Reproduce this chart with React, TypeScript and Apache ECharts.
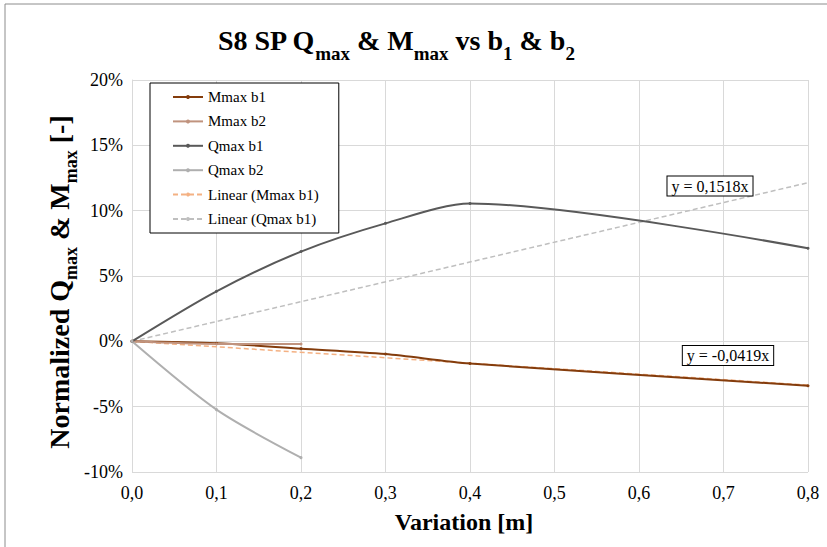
import React, { useEffect, useRef } from "react";
import * as echarts from "echarts";

const mmaxB1X = [0, 0.1, 0.2, 0.3, 0.4, 0.8];
const mmaxB1 = [0, -0.15, -0.56, -0.97, -1.7, -3.4];
const mmaxB2X = [0, 0.1, 0.2];
const mmaxB2 = [0, -0.2, -0.2];
const qmaxB1X = [0, 0.1, 0.2, 0.3, 0.4, 0.8];
const qmaxB1 = [0, 3.83, 6.87, 9.03, 10.55, 7.12];
const qmaxB2X = [0, 0.1, 0.2];
const qmaxB2 = [0, -5.23, -8.9];
const trendX = [0, 0.8];
const trendMmaxB1 = [0, -3.35];
const trendQmaxB1 = [0, 12.14];
const eqQ = "y = 0,1518x";
const eqM = "y = -0,0419x";

const FONT = "Liberation Serif";

function pairs(xs: number[], ys: number[]) {
  return xs.map((x, i) => [x, ys[i]]);
}

export default function App() {
  const ref = useRef<HTMLDivElement>(null);
  useEffect(() => {
    if (!ref.current) return;
    const chart = echarts.init(ref.current, null, { renderer: "svg" });
    const lineSeries = (name: string, data: number[][], color: string) => ({
      name,
      type: "line",
      data,
      smooth: 0.28,
      symbol: "circle",
      symbolSize: 3,
      showSymbol: true,
      lineStyle: { color, width: 2 },
      itemStyle: { color },
      z: 3,
    });
    const trendSeries = (name: string, data: number[][], color: string) => ({
      name,
      type: "line",
      data,
      symbol: "none",
      lineStyle: { color, width: 1.5, type: [5, 3] },
      itemStyle: { color },
      z: 2,
    });
    chart.setOption({
      animation: false,
      backgroundColor: "#ffffff",
      textStyle: { fontFamily: FONT },
      grid: { left: 132, right: 19, top: 80, bottom: 75, containLabel: false },
      xAxis: {
        type: "value",
        min: 0,
        max: 0.8,
        interval: 0.1,
        axisLine: { show: true, lineStyle: { color: "#d9d9d9" } },
        axisTick: { show: false },
        axisLabel: {
          fontFamily: FONT,
          fontSize: 18,
          color: "#000",
          margin: 12,
          formatter: (v: number) => v.toFixed(1).replace(".", ","),
        },
        splitLine: { show: true, lineStyle: { color: "#d9d9d9" } },
      },
      yAxis: {
        type: "value",
        min: -10,
        max: 20,
        interval: 5,
        axisLine: { show: true, lineStyle: { color: "#d9d9d9" } },
        axisTick: { show: false },
        axisLabel: {
          fontFamily: FONT,
          fontSize: 18,
          color: "#000",
          margin: 9,
          formatter: (v: number) => v + "%",
        },
        splitLine: { show: true, lineStyle: { color: "#d9d9d9" } },
      },
      legend: {
        orient: "vertical",
        left: 150,
        top: 83,
        itemWidth: 30,
        itemHeight: 5,
        itemGap: 6.4,
        padding: [5, 20, 5, 22],
        borderColor: "#000",
        borderWidth: 1,
        backgroundColor: "#fff",
        textStyle: { fontFamily: FONT, fontSize: 15, color: "#000", lineHeight: 18 },
        data: ["Mmax b1", "Mmax b2", "Qmax b1", "Qmax b2", "Linear (Mmax b1)", "Linear (Qmax b1)"],
      },
      series: [
        lineSeries("Mmax b1", pairs(mmaxB1X, mmaxB1), "#843c0c"),
        lineSeries("Mmax b2", pairs(mmaxB2X, mmaxB2), "#c0937e"),
        lineSeries("Qmax b1", pairs(qmaxB1X, qmaxB1), "#595959"),
        lineSeries("Qmax b2", pairs(qmaxB2X, qmaxB2), "#afafaf"),
        trendSeries("Linear (Mmax b1)", pairs(trendX, trendMmaxB1), "#f4b183"),
        trendSeries("Linear (Qmax b1)", pairs(trendX, trendQmaxB1), "#bfbfbf"),
      ],
      graphic: [
        {
          type: "rect",
          shape: { x: 5, y: 4, width: 900, height: 700 },
          style: { fill: "none", stroke: "#8c8c8c", lineWidth: 1 },
          silent: true,
          z: 0,
        },
        {
          type: "text",
          x: 396,
          y: 43,
          style: {
            text: "{a|S8 SP Q}{s|max}{a| & M}{s|max}{a| vs b}{s|1}{a| & b}{s|2}",
            align: "center",
            verticalAlign: "middle",
            rich: {
              a: { fontFamily: FONT, fontSize: 28, fontWeight: "bold", fill: "#000", lineHeight: 34, verticalAlign: "top" },
              s: { fontFamily: FONT, fontSize: 19, fontWeight: "bold", fill: "#000", lineHeight: 20, verticalAlign: "top", padding: [18, 0, 0, 0] },
            },
          },
        },
        {
          type: "text",
          x: 61,
          y: 282,
          rotation: Math.PI / 2,
          style: {
            text: "{a|Normalized Q}{s|max}{a| & M}{s|max}{a| [-]}",
            align: "center",
            verticalAlign: "middle",
            rich: {
              a: { fontFamily: FONT, fontSize: 28, fontWeight: "bold", fill: "#000", lineHeight: 32, verticalAlign: "top" },
              s: { fontFamily: FONT, fontSize: 18, fontWeight: "bold", fill: "#000", lineHeight: 18, verticalAlign: "top", padding: [17, 0, 0, 0] },
            },
          },
        },
        {
          type: "text",
          x: 464,
          y: 522,
          style: {
            text: "Variation [m]",
            align: "center",
            verticalAlign: "middle",
            fontFamily: FONT,
            fontSize: 24,
            fontWeight: "bold",
            fill: "#000",
          },
        },
        {
          type: "text",
          x: 710,
          y: 186,
          z: 10,
          style: {
            text: eqQ,
            align: "center",
            verticalAlign: "middle",
            fontFamily: FONT,
            fontSize: 16,
            fill: "#000",
            backgroundColor: "#fff",
            borderColor: "#000",
            borderWidth: 1,
            padding: [2, 4, 1, 4],
          },
        },
        {
          type: "text",
          x: 728,
          y: 355.5,
          z: 10,
          style: {
            text: eqM,
            align: "center",
            verticalAlign: "middle",
            fontFamily: FONT,
            fontSize: 16,
            fill: "#000",
            backgroundColor: "#fff",
            borderColor: "#000",
            borderWidth: 1,
            padding: [2, 4, 1, 4],
          },
        },
      ],
    });
    return () => chart.dispose();
  }, []);
  return (
    <div
      ref={ref}
      style={{ position: "fixed", left: 0, top: 0, width: 827, height: 547, background: "#fff" }}
    />
  );
}
